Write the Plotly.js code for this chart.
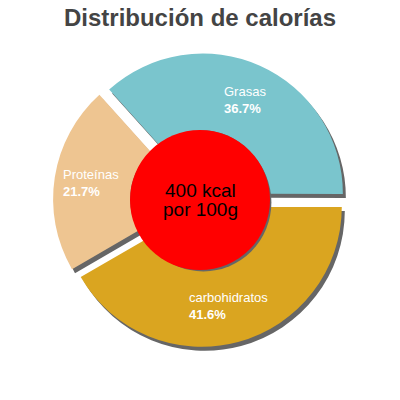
<!DOCTYPE html>
<html>
<head>
<meta charset="utf-8">
<script src="https://cdn.plot.ly/plotly-3.0.1.min.js"></script>
<style>
  html, body { margin: 0; padding: 0; background: #fff; }
  #chart { width: 400px; height: 400px; }
</style>
</head>
<body>
<div id="chart"></div>
<script>
const labels = ['Grasas', 'carbohidratos', 'Proteínas'];
const values = [36.7, 41.6, 21.7];
const colors = ['#7AC5CD', '#DAA520', '#EEC591'];
const centerLines = ['400 kcal', 'por 100g'];

const FONT = 'Liberation Sans, Arial, sans-serif';
const W = 400, H = 400;
const ROTATION = -42;      // first slice starts at upper left, clockwise
const LABEL_R = 110;       // px from centre where a label block sits

// main pie square, centred on the chart
const dom = { x: [0.1325, 0.8675], y: [0.1325, 0.8675] };
// shadow pie: a few px right and down
const sdx = 3 / W, sdy = 4 / H;

const shadow = {
    type: 'pie',
    labels: labels,
    values: values,
    sort: false,
    direction: 'clockwise',
    rotation: ROTATION,
    hole: 0.45,
    pull: 0.05,
    marker: { colors: labels.map(() => '#666666') },
    textinfo: 'none',
    hoverinfo: 'skip',
    showlegend: false,
    domain: { x: [dom.x[0] + sdx, dom.x[1] + sdx], y: [dom.y[0] - sdy, dom.y[1] - sdy] }
};

const pie = {
    type: 'pie',
    labels: labels,
    values: values,
    sort: false,
    direction: 'clockwise',
    rotation: ROTATION,
    hole: 0.45,
    pull: 0.05,
    marker: { colors: colors },
    textinfo: 'none',
    showlegend: false,
    domain: dom
};

// slice labels: left aligned two-line blocks centred on each slice's bisector
const total = values.reduce((a, b) => a + b, 0);
const start = 90 - ROTATION;
const annotations = [];
let cum = 0;
values.forEach((v, i) => {
    const mid = (start - (cum + v / 2) / total * 360) * Math.PI / 180;
    cum += v;
    const cx = W / 2 + LABEL_R * Math.cos(mid);
    const cy = H / 2 - LABEL_R * Math.sin(mid);
    const pct = (100 * v / total).toFixed(1) + '%';
    annotations.push({
        text: labels[i] + '<br><b>' + pct + '</b>',
        xref: 'paper', yref: 'paper', x: cx / W, y: 1 - cy / H,
        xanchor: 'center', yanchor: 'middle', align: 'left', showarrow: false,
        font: { family: FONT, size: 13, color: '#ffffff' }
    });
});

centerLines.forEach((s, i) => {
    annotations.push({ text: s, xref: 'paper', yref: 'paper', x: 0.5, y: 0.525 - i * 0.05,
        xanchor: 'center', yanchor: 'middle', showarrow: false,
        font: { family: FONT, size: 19, color: '#000000' } });
});

const layout = {
    width: W,
    height: H,
    margin: { l: 0, r: 0, t: 0, b: 0 },
    paper_bgcolor: '#ffffff',
    title: {
        text: '<b>Distribución de calorías</b>',
        font: { family: FONT, size: 24, color: '#444444' },
        x: 0.5, xanchor: 'center', y: 0.955, yanchor: 'middle'
    },
    shapes: [
        { type: 'circle', xref: 'paper', yref: 'paper', layer: 'above',
          x0: 0.3325 + 0.006, x1: 0.6725 + 0.006, y0: 0.3275 - 0.006, y1: 0.6725 - 0.006,
          fillcolor: '#666666', line: { width: 0 } },
        { type: 'circle', xref: 'paper', yref: 'paper', layer: 'above',
          x0: 0.325, x1: 0.675, y0: 0.325, y1: 0.675,
          fillcolor: '#ff0000', line: { width: 0 } }
    ],
    annotations: annotations
};

Plotly.newPlot('chart', [shadow, pie], layout, { displayModeBar: false, staticPlot: true });
</script>
</body>
</html>
